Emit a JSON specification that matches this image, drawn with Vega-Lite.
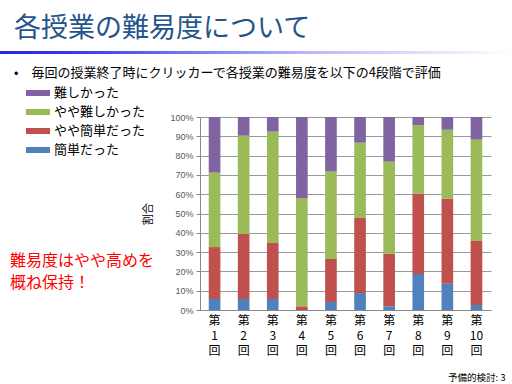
{
  "$schema": "https://vega.github.io/schema/vega-lite/v6.json",
  "background": "white",
  "autosize": {"type": "none"},
  "padding": {"left": 200, "top": 117, "right": 21, "bottom": 74},
  "width": 291,
  "height": 193,
  "config": {
    "view": {"stroke": null},
    "font": "Noto Sans CJK JP"
  },
  "title": {
    "text": "各授業の難易度について",
    "subtitle": "•　毎回の授業終了時にクリッカーで各授業の難易度を以下の4段階で評価",
    "anchor": "start",
    "frame": "group",
    "dx": -186,
    "offset": -30,
    "fontSize": 27,
    "fontWeight": "normal",
    "color": "#24548a",
    "font": "Noto Sans CJK JP",
    "subtitleFontSize": 13,
    "subtitleColor": "#000000",
    "subtitleFont": "Noto Sans CJK JP",
    "subtitlePadding": 24
  },
  "resolve": {
    "scale": {"x": "independent", "y": "independent"},
    "axis": {"x": "independent", "y": "independent"}
  },
  "layer": [
    {
      "data": {"values": [{"part": "header rule", "from": -0.69, "to": 1.08, "top": 1.342, "bottom": 1.326}]},
      "mark": {
        "type": "rect",
        "clip": false,
        "color": {
          "gradient": "linear",
          "x1": 0, "x2": 1, "y1": 0, "y2": 0,
          "stops": [
            {"offset": 0, "color": "#2222ee"},
            {"offset": 0.15, "color": "#3a3af0"},
            {"offset": 0.6, "color": "#b8b8f8"},
            {"offset": 1, "color": "#ffffff"}
          ]
        }
      },
      "encoding": {
        "x": {"field": "from", "type": "quantitative", "scale": {"domain": [0, 1], "zero": false, "nice": false}, "axis": null},
        "x2": {"field": "to"},
        "y": {"field": "top", "type": "quantitative", "scale": {"domain": [0, 1], "zero": false, "nice": false}, "axis": null},
        "y2": {"field": "bottom"}
      }
    },
    {
      "data": {"values": [
        {"kai": "第1回", "level": "簡単だった", "k": 1, "pct": 5.7},
        {"kai": "第1回", "level": "やや簡単だった", "k": 2, "pct": 26.9},
        {"kai": "第1回", "level": "やや難しかった", "k": 3, "pct": 38.6},
        {"kai": "第1回", "level": "難しかった", "k": 4, "pct": 28.8},
        {"kai": "第2回", "level": "簡単だった", "k": 1, "pct": 5.7},
        {"kai": "第2回", "level": "やや簡単だった", "k": 2, "pct": 33.7},
        {"kai": "第2回", "level": "やや難しかった", "k": 3, "pct": 50.9},
        {"kai": "第2回", "level": "難しかった", "k": 4, "pct": 9.7},
        {"kai": "第3回", "level": "簡単だった", "k": 1, "pct": 5.7},
        {"kai": "第3回", "level": "やや簡単だった", "k": 2, "pct": 29.0},
        {"kai": "第3回", "level": "やや難しかった", "k": 3, "pct": 57.7},
        {"kai": "第3回", "level": "難しかった", "k": 4, "pct": 7.6},
        {"kai": "第4回", "level": "簡単だった", "k": 1, "pct": 0},
        {"kai": "第4回", "level": "やや簡単だった", "k": 2, "pct": 1.9},
        {"kai": "第4回", "level": "やや難しかった", "k": 3, "pct": 56.1},
        {"kai": "第4回", "level": "難しかった", "k": 4, "pct": 42.0},
        {"kai": "第5回", "level": "簡単だった", "k": 1, "pct": 4.1},
        {"kai": "第5回", "level": "やや簡単だった", "k": 2, "pct": 22.3},
        {"kai": "第5回", "level": "やや難しかった", "k": 3, "pct": 45.3},
        {"kai": "第5回", "level": "難しかった", "k": 4, "pct": 28.3},
        {"kai": "第6回", "level": "簡単だった", "k": 1, "pct": 8.8},
        {"kai": "第6回", "level": "やや簡単だった", "k": 2, "pct": 38.9},
        {"kai": "第6回", "level": "やや難しかった", "k": 3, "pct": 39.0},
        {"kai": "第6回", "level": "難しかった", "k": 4, "pct": 13.3},
        {"kai": "第7回", "level": "簡単だった", "k": 1, "pct": 1.9},
        {"kai": "第7回", "level": "やや簡単だった", "k": 2, "pct": 27.3},
        {"kai": "第7回", "level": "やや難しかった", "k": 3, "pct": 47.7},
        {"kai": "第7回", "level": "難しかった", "k": 4, "pct": 23.1},
        {"kai": "第8回", "level": "簡単だった", "k": 1, "pct": 18.7},
        {"kai": "第8回", "level": "やや簡単だった", "k": 2, "pct": 41.6},
        {"kai": "第8回", "level": "やや難しかった", "k": 3, "pct": 35.4},
        {"kai": "第8回", "level": "難しかった", "k": 4, "pct": 4.3},
        {"kai": "第9回", "level": "簡単だった", "k": 1, "pct": 13.6},
        {"kai": "第9回", "level": "やや簡単だった", "k": 2, "pct": 44.1},
        {"kai": "第9回", "level": "やや難しかった", "k": 3, "pct": 35.7},
        {"kai": "第9回", "level": "難しかった", "k": 4, "pct": 6.6},
        {"kai": "第10回", "level": "簡単だった", "k": 1, "pct": 2.6},
        {"kai": "第10回", "level": "やや簡単だった", "k": 2, "pct": 33.2},
        {"kai": "第10回", "level": "やや難しかった", "k": 3, "pct": 52.5},
        {"kai": "第10回", "level": "難しかった", "k": 4, "pct": 11.7}
      ]},
      "mark": {"type": "bar"},
      "encoding": {
        "x": {
          "field": "kai",
          "type": "nominal",
          "sort": null,
          "scale": {"paddingInner": 0.6, "paddingOuter": 0.3},
          "axis": {
            "title": "予備的検討: 3",
            "titleFontSize": 9.5,
            "titleFontWeight": "normal",
            "titleColor": "#000000",
            "titleAnchor": null,
            "titleAlign": "right",
            "titleBaseline": "middle",
            "titleX": 305,
            "titleY": 67,
            "labelAngle": 0,
            "labelExpr": "['第', slice(datum.label, 1, -1), '回']",
            "labelFontSize": 12,
            "labelLineHeight": 15,
            "labelColor": "#000000",
            "labelPadding": 5,
            "ticks": false,
            "domainColor": "#888888"
          }
        },
        "y": {
          "field": "pct",
          "type": "quantitative",
          "stack": "normalize",
          "scale": {"domain": [0, 1]},
          "axis": {
            "title": "割合",
            "titleFontSize": 11,
            "titleFontWeight": "normal",
            "titleColor": "#000000",
            "titlePadding": 16,
            "values": [0, 0.1, 0.2, 0.3, 0.4, 0.5, 0.6, 0.7, 0.8, 0.9, 1],
            "format": ".0%",
            "labelOverlap": false,
            "grid": true,
            "labelFont": "Liberation Sans",
            "labelFontSize": 9,
            "labelColor": "#595959",
            "labelPadding": 3,
            "tickSize": 4,
            "tickColor": "#888888",
            "domainColor": "#888888",
            "gridColor": "#999999",
            "gridOpacity": 1
          }
        },
        "order": {"field": "k", "type": "quantitative"},
        "color": {
          "field": "level",
          "type": "nominal",
          "scale": {
            "domain": ["難しかった", "やや難しかった", "やや簡単だった", "簡単だった"],
            "range": ["#8064A2", "#9BBB59", "#C0504D", "#4F81BD"]
          },
          "legend": {
            "orient": "none",
            "legendX": -200,
            "legendY": -42,
            "padding": 10,
            "title": ["難易度はやや高めを", "概ね保持！"],
            "titleOrient": "bottom",
            "titleAnchor": "start",
            "titleColor": "#ff0000",
            "titleFontSize": 16,
            "titleFontWeight": "normal",
            "titleLineHeight": 22,
            "titlePadding": 95,
            "titleLimit": 300,
            "symbolType": "M-1,-0.25L1,-0.25L1,0.25L-1,0.25Z",
            "symbolSize": 576,
            "symbolStrokeWidth": 0,
            "symbolOffset": 16,
            "labelFontSize": 13,
            "labelColor": "#000000",
            "labelOffset": 4,
            "clipHeight": 16,
            "rowPadding": 3
          }
        }
      }
    }
  ]
}
